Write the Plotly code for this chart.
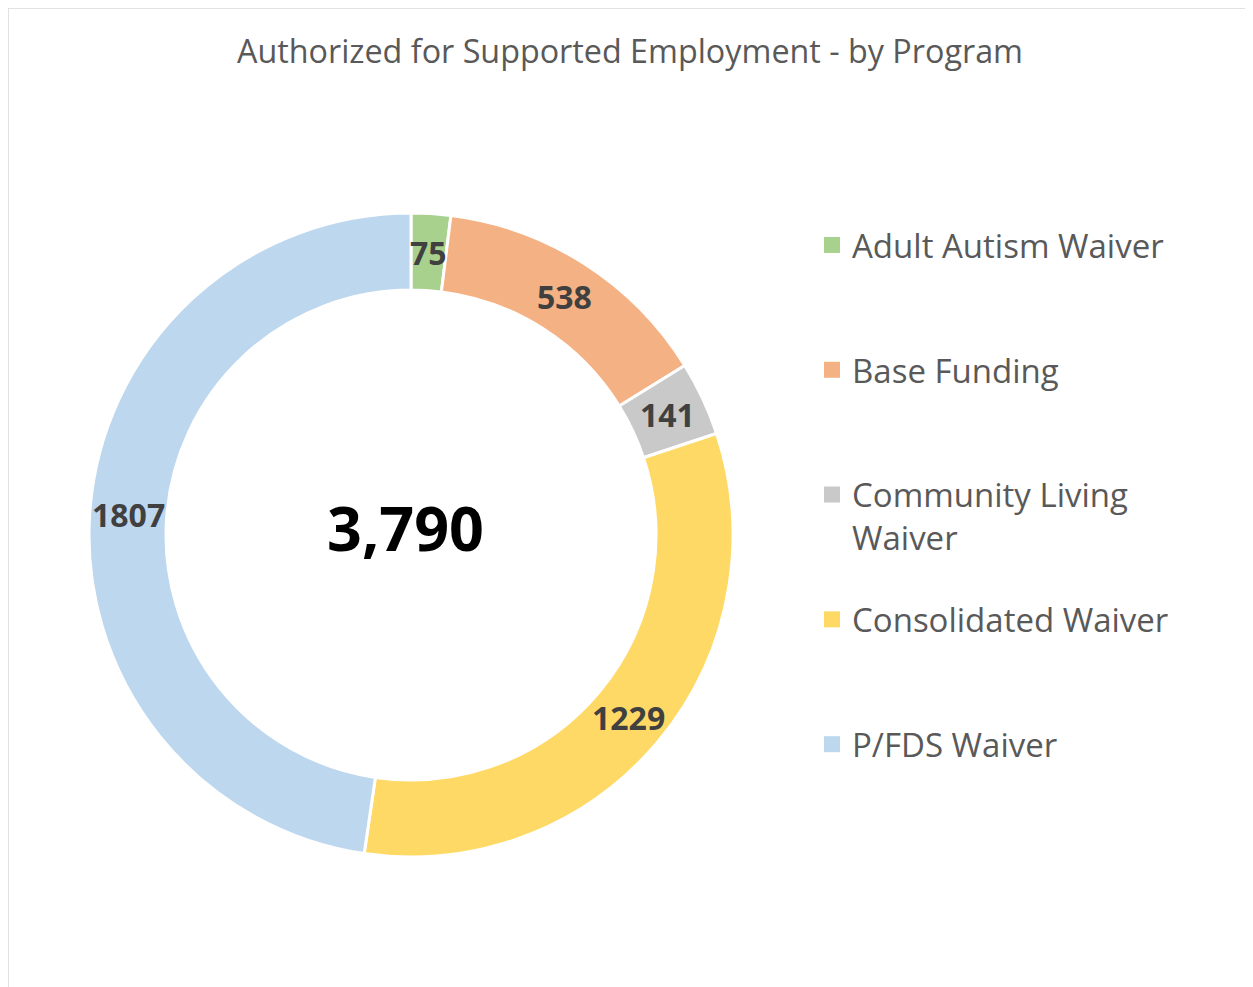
import math
import plotly.graph_objects as go

# program counts authorized for supported employment
programs = ["Adult Autism Waiver", "Base Funding", "Community Living Waiver",
            "Consolidated Waiver", "P/FDS Waiver"]
counts = [75, 538, 141, 1229, 1807]
colors = ["#A9D18E", "#F4B183", "#C9C9C9", "#FFD966", "#BDD7EE"]

W, H = 1253, 987
OFF = 8  # page body margin


def px(x):
    return (x - OFF) / W


def py(y):
    return 1 - (y - OFF) / H


total = sum(counts)
cx, cy, r_out, r_in = 411, 535, 322, 245

fig = go.Figure(go.Pie(
    labels=programs,
    values=counts,
    hole=r_in / r_out,
    sort=False,
    direction="clockwise",
    rotation=0,
    marker=dict(colors=colors, line=dict(color="white", width=3)),
    textinfo="none",
    showlegend=False,
    domain=dict(x=[px(cx - r_out), px(cx + r_out)], y=[py(cy + r_out), py(cy - r_out)]),
    hoverinfo="label+value",
))

# legend entries as square markers, one group each so the gap can be set
for name, c in zip(programs, colors):
    lbl = "Community Living<br>Waiver" if name == "Community Living Waiver" else name + "<br> "
    fig.add_trace(go.Scatter(
        x=[None], y=[None], mode="markers", name=lbl, legendgroup=name,
        marker=dict(symbol="square", size=16, color=c),
    ))

# value labels in the middle of the ring, at each slice's mid angle
r_mid = (r_out + r_in) / 2
annos = []
cum = 0
for v in counts:
    a = 2 * math.pi * (cum + v / 2) / total
    cum += v
    annos.append(dict(
        text=str(v), x=px(cx + r_mid * math.sin(a)), y=py(cy - r_mid * math.cos(a)),
        xref="paper", yref="paper", xanchor="center", yanchor="middle", showarrow=False,
        font=dict(family="Open Sans", size=32, color="#404040", weight="bold"),
    ))
annos.append(dict(
    text=f"{total:,}", x=px(405), y=py(527), xref="paper", yref="paper",
    xanchor="center", yanchor="middle", showarrow=False,
    font=dict(family="Open Sans", size=61, color="black", weight="bold"),
))

fig.update_layout(
    width=W, height=H,
    margin=dict(l=0, r=0, t=0, b=0),
    paper_bgcolor="white",
    plot_bgcolor="white",
    xaxis=dict(visible=False),
    yaxis=dict(visible=False),
    font=dict(family="Open Sans", color="#595959"),
    title=dict(
        text="Authorized for Supported Employment - by Program",
        x=px(630), xanchor="center", y=py(52), yanchor="middle",
        font=dict(size=32.3, color="#595959"),
    ),
    legend=dict(
        x=px(812), xanchor="left", y=py(217), yanchor="top",
        valign="top",
        traceorder="grouped",
        tracegroupgap=36,
        font=dict(size=33, color="#595959"),
        bgcolor="rgba(0,0,0,0)",
    ),
    annotations=annos,
    shapes=[dict(
        type="rect", xref="paper", yref="paper",
        x0=px(8), x1=1.02, y0=-0.02, y1=py(8),
        line=dict(color="#D9D9D9", width=1.5),
    )],
)

fig.write_html("out.html")
